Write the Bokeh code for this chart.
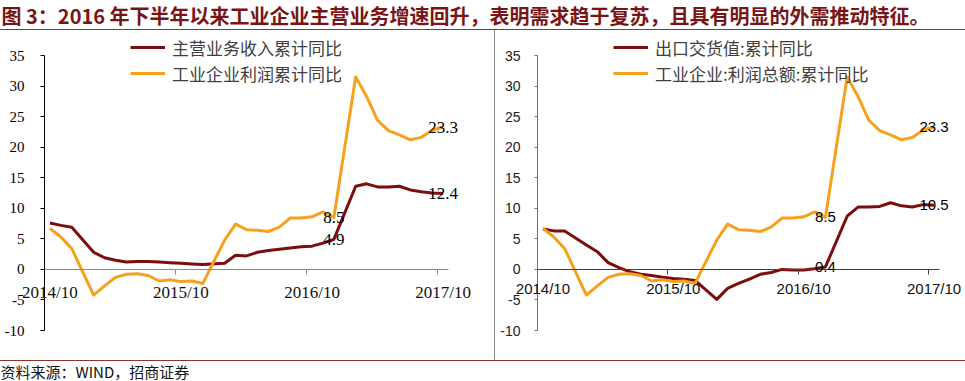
from bokeh.plotting import figure
from bokeh.models import Range1d, FixedTicker, Label, Legend, LegendItem, Spacer
from bokeh.layouts import column, row
from bokeh.embed import file_html
from bokeh.resources import INLINE

# ---------------- data ----------------
months = ["2014/10", "2014/11", "2014/12", "2015/01", "2015/02", "2015/03", "2015/04",
          "2015/05", "2015/06", "2015/07", "2015/08", "2015/09", "2015/10", "2015/11",
          "2015/12", "2016/01", "2016/02", "2016/03", "2016/04", "2016/05", "2016/06",
          "2016/07", "2016/08", "2016/09", "2016/10", "2016/11", "2016/12", "2017/01",
          "2017/02", "2017/03", "2017/04", "2017/05", "2017/06", "2017/07", "2017/08",
          "2017/09", "2017/10"]
tick_labels = ["2014/10", "2015/10", "2016/10", "2017/10"]
y_ticks = [-10, -5, 0, 5, 10, 15, 20, 25, 30, 35]

# 主营业务收入累计同比 (January not published -> None)
revenue = [7.6, 7.2, 6.9, None, 2.8, 1.9, 1.5, 1.2, 1.3, 1.3, 1.2, 1.1, 1.0, 0.9,
           0.8, None, 1.0, 2.3, 2.2, 2.8, 3.1, 3.3, 3.5, 3.7, 3.8, 4.3, 4.9, None,
           13.6, 14.0, 13.5, 13.5, 13.6, 13.0, 12.7, 12.5, 12.4]
# 工业企业利润累计同比
profit = [6.7, 5.3, 3.4, None, -4.2, -2.7, -1.3, -0.8, -0.7, -1.0, -1.9, -1.7, -2.0, -1.9,
          -2.3, None, 4.8, 7.4, 6.5, 6.4, 6.2, 6.9, 8.4, 8.4, 8.6, 9.4, 8.5, None,
          31.5, 28.3, 24.4, 22.7, 22.0, 21.2, 21.6, 22.8, 23.3]
# 出口交货值:累计同比
export = [6.6, 6.3, 6.3, None, 4.0, 2.9, 1.1, 0.3, -0.4, -0.8, -1.0, -1.3, -1.5, -1.6,
          -1.8, None, -4.9, -3.1, -2.3, -1.6, -0.8, -0.5, 0.0, -0.1, -0.1, 0.1, 0.4, None,
          8.7, 10.2, 10.2, 10.3, 10.9, 10.4, 10.2, 10.6, 10.5]
annot_months = ["2016/12", "2017/10"]

title_text = "图 3：2016 年下半年以来工业企业主营业务增速回升，表明需求趋于复苏，且具有明显的外需推动特征。"
source_text = "资料来源：WIND，招商证券"
left_names = ["主营业务收入累计同比", "工业企业利润累计同比"]
right_names = ["出口交货值:累计同比", "工业企业:利润总额:累计同比"]

DARK = "#7B0D0D"
ORANGE = "#F6A11C"
TITLE_C = "#7A1414"
RULE_C = "#8E3424"
CJK = "Noto Sans CJK SC"

# ---------------- geometry (page pixels) ----------------
PANEL_TOP, PANEL_BOTTOM = 30, 360
Y_TOP_PX, Y_BOT_PX = 55, 330          # where 35 and -10 sit
LEG_TOP_PX = 34                        # legend block top
MBT, MBB = 0, 6                        # min borders top / bottom


def pts(vals):
    xs = [i for i, v in enumerate(vals) if v is not None]
    ys = [v for v in vals if v is not None]
    return xs, ys


def make_panel(x0, width, mbl, axis_px, cat_span_px, series, names, font, ytick_size,
               ytick_color, yaxis_color, ylab_right_px, tick_out, zero_color, cat_size,
               cat_off, val_size, legend_px, legend_size):
    n = len(months)
    cat_px = cat_span_px / n
    frame_l = x0 + mbl
    frame_r = x0 + width
    x_lo = -0.5 - (axis_px - frame_l) / cat_px
    x_hi = -0.5 + (frame_r - axis_px) / cat_px
    ppu = (Y_BOT_PX - Y_TOP_PX) / (y_ticks[-1] - y_ticks[0])
    frame_t = PANEL_TOP + MBT
    frame_b = PANEL_BOTTOM - MBB
    y_hi = y_ticks[-1] + (Y_TOP_PX - frame_t) / ppu
    y_lo = y_ticks[0] - (frame_b - Y_BOT_PX) / ppu

    p = figure(width=width, height=PANEL_BOTTOM - PANEL_TOP, x_range=Range1d(x_lo, x_hi),
               y_range=Range1d(y_lo, y_hi), toolbar_location=None,
               output_backend="svg", min_border_left=mbl, min_border_right=0,
               min_border_top=MBT, min_border_bottom=MBB)
    p.grid.visible = False
    p.outline_line_color = None

    # x axis through zero, short ticks between year blocks
    lab_pos = [months.index(t) for t in tick_labels]
    bounds = [i - 0.5 for i in lab_pos[1:]]
    xa = p.xaxis[0]
    xa.fixed_location = 0
    xa.bounds = (-0.5, n - 0.5)
    xa.ticker = FixedTicker(ticks=bounds, minor_ticks=[])
    xa.major_label_overrides = {b: "" for b in bounds}
    xa.major_label_text_font_size = "0px"
    xa.major_label_standoff = 0
    xa.major_tick_out = 5
    xa.major_tick_in = 0
    xa.minor_tick_out = 0
    xa.minor_tick_in = 0
    xa.axis_line_color = zero_color
    xa.major_tick_line_color = zero_color

    # y axis at the left edge of the category block
    ya = p.yaxis[0]
    ya.fixed_location = -0.5
    ya.bounds = (y_ticks[0], y_ticks[-1])
    ya.ticker = FixedTicker(ticks=y_ticks, minor_ticks=[])
    ya.major_label_overrides = {t: "" for t in y_ticks}
    ya.major_label_text_font_size = "0px"
    ya.major_label_standoff = 0
    ya.major_tick_out = tick_out
    ya.major_tick_in = 0
    ya.minor_tick_out = 0
    ya.minor_tick_in = 0
    ya.axis_line_color = yaxis_color
    ya.major_tick_line_color = yaxis_color

    # y tick labels
    for t in y_ticks:
        p.add_layout(Label(x=-0.5, y=t, x_offset=ylab_right_px - axis_px, text=str(t),
                           text_align="right", text_baseline="middle", text_font=font,
                           text_font_size=f"{ytick_size}px", text_color=ytick_color))
    # category labels
    for t in tick_labels:
        p.add_layout(Label(x=months.index(t), y=0, y_offset=-cat_off, text=t,
                           text_align="center", text_baseline="middle",
                           text_font=font, text_font_size=f"{cat_size}px",
                           text_color="#111111"))

    rs = []
    for vals, color in series:
        xs, ys = pts(vals)
        rs.append(p.line(xs, ys, line_color=color, line_width=3, line_join="round"))

    leg_h = 52
    legend = Legend(items=[LegendItem(label=nm, renderers=[r]) for nm, r in zip(names, rs)],
                    location=(legend_px - frame_l, frame_b - (LEG_TOP_PX + leg_h)),
                    glyph_width=35, glyph_height=26, label_height=26, spacing=0,
                    padding=0, margin=0, label_standoff=7,
                    border_line_color=None, background_fill_alpha=0,
                    label_text_font=CJK, label_text_font_size=f"{legend_size}px",
                    label_text_color="#404040")
    p.add_layout(legend)

    for vals, _ in series:
        for m in annot_months:
            i = months.index(m)
            p.add_layout(Label(x=i, y=vals[i], text=f"{vals[i]:.1f}",
                               text_align="center", text_baseline="middle",
                               text_font=font, text_font_size=f"{val_size}px",
                               text_color="#000000"))
    return p


left = make_panel(0, 494, 4, 44, 404, [(revenue, DARK), (profit, ORANGE)], left_names,
                  "Liberation Serif", 15, "#000000", "#000000", 24, 4, "#8a8a8a",
                  17, 23, 17, 130, 17)
right = make_panel(495, 470, 4, 537, 402, [(export, DARK), (profit, ORANGE)], right_names,
                   "Liberation Sans", 14, "#222222", "#6f6f6f", 520, 3, "#404040",
                   15, 19, 15, 613, 17)

title_fig = figure(width=965, height=29, x_range=Range1d(0, 1), y_range=Range1d(0, 1),
                   toolbar_location=None, output_backend="svg", min_border=0,
                   x_axis_type=None, y_axis_type=None, outline_line_color=None)
title_fig.add_layout(Label(x=1, y=14, x_units="screen", y_units="screen", text=title_text,
                           text_baseline="middle", text_font=CJK, text_font_style="bold",
                           text_font_size="20px", text_color=TITLE_C))

foot_fig = figure(width=965, height=20, x_range=Range1d(0, 1), y_range=Range1d(0, 1),
                  toolbar_location=None, output_backend="svg", min_border=0,
                  x_axis_type=None, y_axis_type=None, outline_line_color=None)
foot_fig.add_layout(Label(x=0, y=10, x_units="screen", y_units="screen", text=source_text,
                          text_baseline="middle", text_font=CJK,
                          text_font_size="15px", text_color="#111111"))

rule1 = Spacer(width=965, height=1, styles={"background-color": RULE_C})
rule2 = Spacer(width=965, height=1, styles={"background-color": RULE_C})
vsep = Spacer(width=1, height=PANEL_BOTTOM - PANEL_TOP, styles={"background-color": "#8c8c8c"})

layout = column(title_fig, rule1, row(left, vsep, right, spacing=0), rule2, foot_fig,
                spacing=0)

open("out.html", "w").write(file_html(layout, INLINE))
